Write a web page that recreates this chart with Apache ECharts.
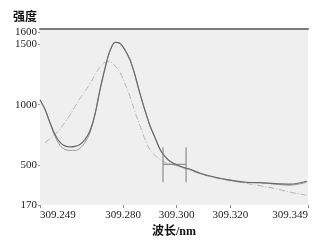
<!DOCTYPE html>
<html>
<head>
<meta charset="utf-8">
<script src="https://cdn.jsdelivr.net/npm/echarts@6/dist/echarts.min.js"></script>
<style>
  html, body { margin: 0; padding: 0; background: #fff; }
  #container { width: 331px; height: 243px; }
</style>
</head>
<body>
<div id="container"></div>
<script>
// wavelength points (nm)
var wavelength = [309.2490, 309.2509, 309.2527, 309.2546, 309.2565, 309.2583, 309.2602, 309.2621,
  309.2639, 309.2658, 309.2677, 309.2695, 309.2714, 309.2733, 309.2751, 309.2770, 309.2789,
  309.2807, 309.2826, 309.2844, 309.2863, 309.2882, 309.2900, 309.2919, 309.2938, 309.2956,
  309.2975, 309.3012, 309.3050, 309.3087, 309.3143, 309.3199, 309.3255, 309.3311, 309.3367,
  309.3423, 309.3486];

// intensities
var measuredA = [1041, 959, 852, 754, 688, 659, 651, 655, 671, 713, 787, 918, 1124, 1304, 1444,
  1514, 1506, 1452, 1370, 1247, 1091, 951, 828, 729, 630, 573, 532, 491, 466, 433, 400, 376,
  359, 355, 347, 343, 367];
var measuredB = [1041, 959, 852, 737, 663, 630, 622, 622, 639, 688, 770, 918, 1124, 1304, 1444,
  1514, 1506, 1452, 1370, 1247, 1091, 951, 828, 729, 630, 573, 532, 491, 466, 433, 400, 376,
  359, 355, 343, 334, 359];
var fitted = [null, 688, 718, 754, 800, 855, 915, 985, 1050, 1110, 1175, 1245, 1308, 1350, 1354,
  1321, 1263, 1173, 1066, 943, 828, 713, 630, 581, 548, 523, 511, 486, 458, 429, 396, 371,
  351, 330, 306, 277, 252];

// error bar
var errX = [309.2949, 309.3035];
var errY = [359, 507, 647];

// tick labels
var xTicks = [309.249, 309.280, 309.300, 309.320, 309.349];
var yTicks = [170, 500, 1000, 1500, 1600];

function pairs(ys) {
  return wavelength.map(function (x, i) { return [x, ys[i]]; });
}

var errData = [
  [errX[0], errY[2]], [errX[0], errY[0]], '-',
  [errX[0], errY[1]], [errX[1], errY[1]], '-',
  [errX[1], errY[2]], [errX[1], errY[0]]
];

var dom = document.getElementById('container');
var myChart = echarts.init(dom);

var labelFont = 'Liberation Serif, Noto Sans CJK SC, serif';

var option = {
  backgroundColor: '#fff',
  animation: false,
  grid: {
    left: 40,
    right: 23,
    top: 29,
    bottom: 37,
    show: true,
    backgroundColor: '#efefef',
    borderWidth: 0
  },
  xAxis: [{
    type: 'value',
    min: 309.249,
    max: 309.349,
    name: '波长/nm',
    nameLocation: 'middle',
    nameGap: 19,
    nameTextStyle: { fontFamily: labelFont, fontSize: 12, color: '#111', fontWeight: 'bold' },
    axisLine: { show: false },
    splitLine: { show: false },
    axisTick: { show: true, length: 3, customValues: xTicks, lineStyle: { color: '#888' } },
    axisLabel: {
      customValues: xTicks,
      margin: 5,
      fontFamily: labelFont,
      fontSize: 11,
      color: '#222',
      alignMinLabel: 'left',
      alignMaxLabel: 'right',
      formatter: function (v) { return v.toFixed(3); }
    }
  }, {
    type: 'value',
    position: 'top',
    min: 309.249,
    max: 309.349,
    axisLine: { show: true, lineStyle: { color: '#7a7a7a', width: 2 } },
    axisTick: { show: false },
    axisLabel: { show: false },
    splitLine: { show: false }
  }],
  yAxis: {
    type: 'value',
    min: 170,
    max: 1625,
    name: '强度',
    nameLocation: 'end',
    nameGap: 5,
    nameTextStyle: {
      fontFamily: labelFont, fontSize: 12, color: '#111', fontWeight: 'bold',
      align: 'right', verticalAlign: 'bottom', padding: [0, 3, 0, 0]
    },
    axisLine: { show: false },
    splitLine: { show: false },
    axisTick: { show: true, length: 2, customValues: yTicks, lineStyle: { color: '#999' } },
    axisLabel: {
      customValues: yTicks,
      margin: 3,
      fontFamily: labelFont,
      fontSize: 11,
      color: '#222',
      formatter: function (v) { return String(v); }
    }
  },
  series: [
    {
      name: 'fitted',
      type: 'line',
      data: pairs(fitted),
      smooth: 0.4,
      showSymbol: false,
      lineStyle: { color: '#b4b4b4', width: 1, type: [6, 2, 1, 2] },
      z: 1
    },
    {
      name: 'measuredB',
      type: 'line',
      data: pairs(measuredB),
      smooth: 0.3,
      showSymbol: false,
      lineStyle: { color: '#9a9a9a', width: 1 },
      z: 2
    },
    {
      name: 'measuredA',
      type: 'line',
      data: pairs(measuredA),
      smooth: 0.3,
      showSymbol: false,
      lineStyle: { color: '#6a6a6a', width: 1.2 },
      z: 3
    },
    {
      name: 'error',
      type: 'line',
      data: errData,
      showSymbol: false,
      connectNulls: false,
      lineStyle: { color: '#7a7a7a', width: 1 },
      z: 4
    }
  ]
};

if (option && typeof option === 'object') {
  myChart.setOption(option);
}
</script>
</body>
</html>
